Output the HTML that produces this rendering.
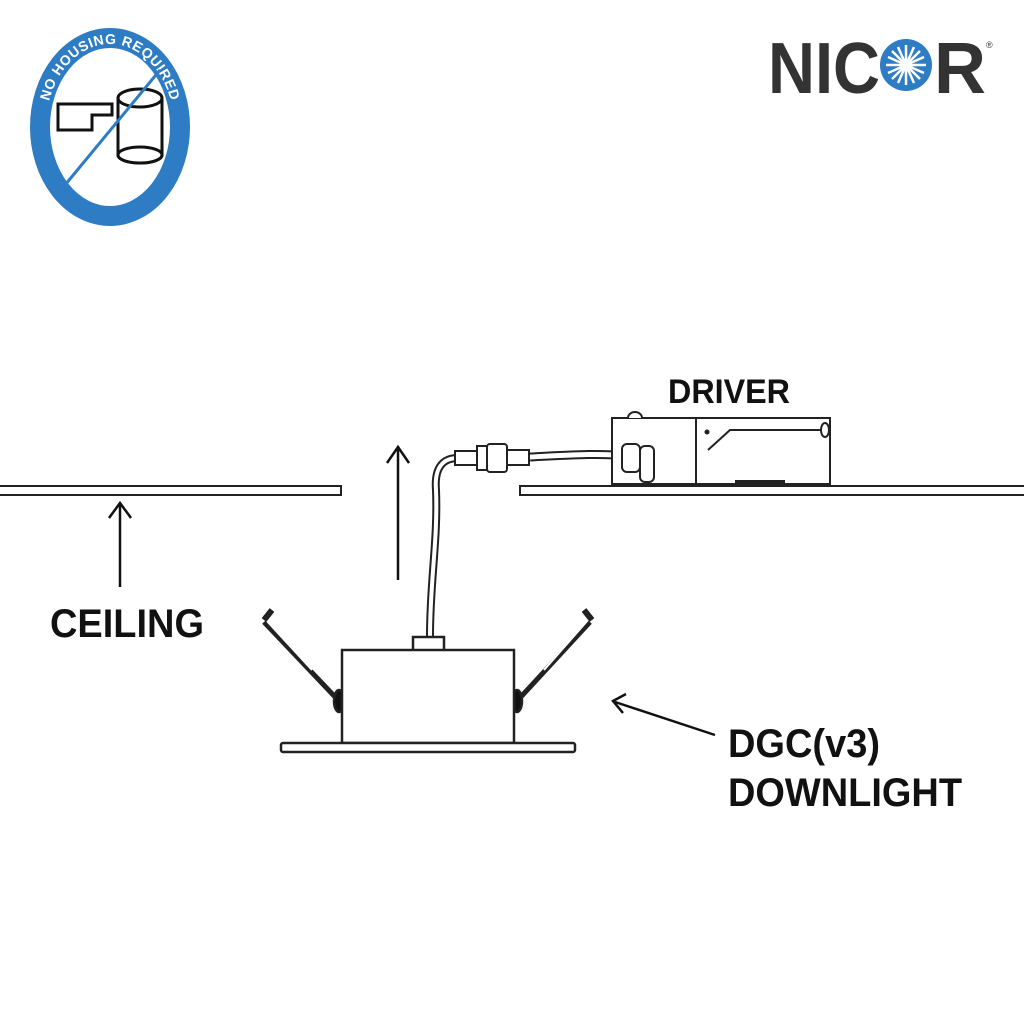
<!DOCTYPE html>
<html><head><style>html,body{margin:0;padding:0;background:#fff}svg{display:block}</style></head>
<body>
<svg width="1024" height="1024" viewBox="0 0 1024 1024" xmlns="http://www.w3.org/2000/svg">
<rect width="1024" height="1024" fill="#fff"/>
<ellipse cx="110" cy="127" rx="70" ry="89" fill="none" stroke="#2d7cc4" stroke-width="20"/>
<defs><path id="arc" d="M46,127 A64,83 0 0 1 174,127"/></defs>
<text font-family="Liberation Sans, sans-serif" font-weight="bold" font-size="14" fill="#fff" letter-spacing="0.6"><textPath href="#arc" startOffset="50%" text-anchor="middle">NO HOUSING REQUIRED</textPath></text>
<g fill="#fff" stroke="#111" stroke-width="3">
<path d="M58,104 H112 V115 H92 V130 H58 Z"/>
<path d="M118,98 V155 A22,8 0 0 0 162,155 V98"/>
<ellipse cx="140" cy="98" rx="22" ry="9"/>
<ellipse cx="140" cy="155" rx="22" ry="8"/>
</g>
<line x1="160" y1="70" x2="65" y2="185" stroke="#2d7cc4" stroke-width="3"/>
<text x="768" y="93" font-family="Liberation Sans, sans-serif" font-weight="bold" font-size="72" fill="#333" textLength="112" lengthAdjust="spacingAndGlyphs">NIC</text>
<circle cx="906" cy="65" r="26" fill="#2d7cc4"/>
<g stroke="#fff" stroke-width="2.5">
<line x1="906" y1="45" x2="906" y2="85"/><line x1="886" y1="65" x2="926" y2="65"/>
<line x1="892" y1="51" x2="920" y2="79"/><line x1="920" y1="51" x2="892" y2="79"/>
<line x1="898" y1="47" x2="914" y2="83"/><line x1="914" y1="47" x2="898" y2="83"/>
<line x1="888" y1="57" x2="924" y2="73"/><line x1="888" y1="73" x2="924" y2="57"/>
</g>
<circle cx="906" cy="65" r="5" fill="#fff"/>
<text x="934" y="93" font-family="Liberation Sans, sans-serif" font-weight="bold" font-size="72" fill="#333" textLength="52" lengthAdjust="spacingAndGlyphs">R</text>
<text x="986" y="48" font-family="Liberation Sans, sans-serif" font-size="9" fill="#333">®</text>
<g fill="#fff" stroke="#222" stroke-width="2">
<rect x="-5" y="486" width="346" height="9"/>
<rect x="520" y="486" width="510" height="9"/>
</g>
<g stroke="#111" stroke-width="2.5" fill="none">
<line x1="120" y1="587" x2="120" y2="505"/><polyline points="109,518 120,503 131,518"/>
<line x1="398" y1="580" x2="398" y2="449"/><polyline points="387,463 398,447 409,463"/>
<line x1="715" y1="735" x2="615" y2="702"/><polyline points="626,694 613,701 623,713"/>
</g>
<g font-family="Liberation Sans, sans-serif" font-weight="bold" fill="#111">
<text x="668" y="403" font-size="34" textLength="122" lengthAdjust="spacingAndGlyphs">DRIVER</text>
<text x="50" y="637" font-size="40" textLength="154" lengthAdjust="spacingAndGlyphs">CEILING</text>
<text x="728" y="757" font-size="40" textLength="152" lengthAdjust="spacingAndGlyphs">DGC(v3)</text>
<text x="728" y="806" font-size="40" textLength="234" lengthAdjust="spacingAndGlyphs">DOWNLIGHT</text>
</g>
<path d="M430,636 C430,580 438,540 436,490 C434,465 445,458 458,458" fill="none" stroke="#222" stroke-width="8"/>
<path d="M430,636 C430,580 438,540 436,490 C434,465 445,458 458,458" fill="none" stroke="#fff" stroke-width="4"/>
<path d="M530,457 C570,455 600,453 628,456" fill="none" stroke="#222" stroke-width="9"/>
<path d="M530,457 C570,455 600,453 628,456" fill="none" stroke="#fff" stroke-width="5"/>
<g fill="#fff" stroke="#222" stroke-width="2">
<rect x="455" y="451" width="22" height="14"/>
<rect x="477" y="446" width="10" height="24"/>
<rect x="487" y="444" width="20" height="28" rx="3"/>
<rect x="507" y="450" width="22" height="15"/>
<rect x="612" y="418" width="84" height="66"/>
<rect x="696" y="418" width="134" height="66"/>
<path d="M628,418 a7,6 0 0 1 14,0"/>
<rect x="622" y="444" width="18" height="28" rx="5"/>
<rect x="640" y="446" width="14" height="36" rx="5"/>
<path d="M708,450 L730,430 H826"/>
<ellipse cx="825" cy="430" rx="4" ry="7"/>
</g>
<circle cx="707" cy="432" r="2.5" fill="#222"/>
<rect x="735" y="480" width="50" height="4" fill="#222"/>
<g stroke="#222" stroke-width="2.5" fill="#fff">
<line x1="264" y1="622" x2="338" y2="700" stroke-width="5"/>
<line x1="590" y1="622" x2="518" y2="700" stroke-width="5"/>
<line x1="266" y1="620" x2="312" y2="670" stroke="#fff" stroke-width="2"/>
<line x1="588" y1="620" x2="544" y2="670" stroke="#fff" stroke-width="2"/>
<polyline points="272,610 264,620" fill="none" stroke-width="6"/>
<polyline points="584,610 592,620" fill="none" stroke-width="6"/>
<ellipse cx="339" cy="701" rx="5" ry="11" fill="#111"/>
<ellipse cx="517" cy="701" rx="5" ry="11" fill="#111"/>
<rect x="413" y="637" width="31" height="14"/>
<rect x="342" y="650" width="172" height="93"/>
<rect x="281" y="743" width="294" height="9" rx="2"/>
</g>
</svg>
</body></html>
